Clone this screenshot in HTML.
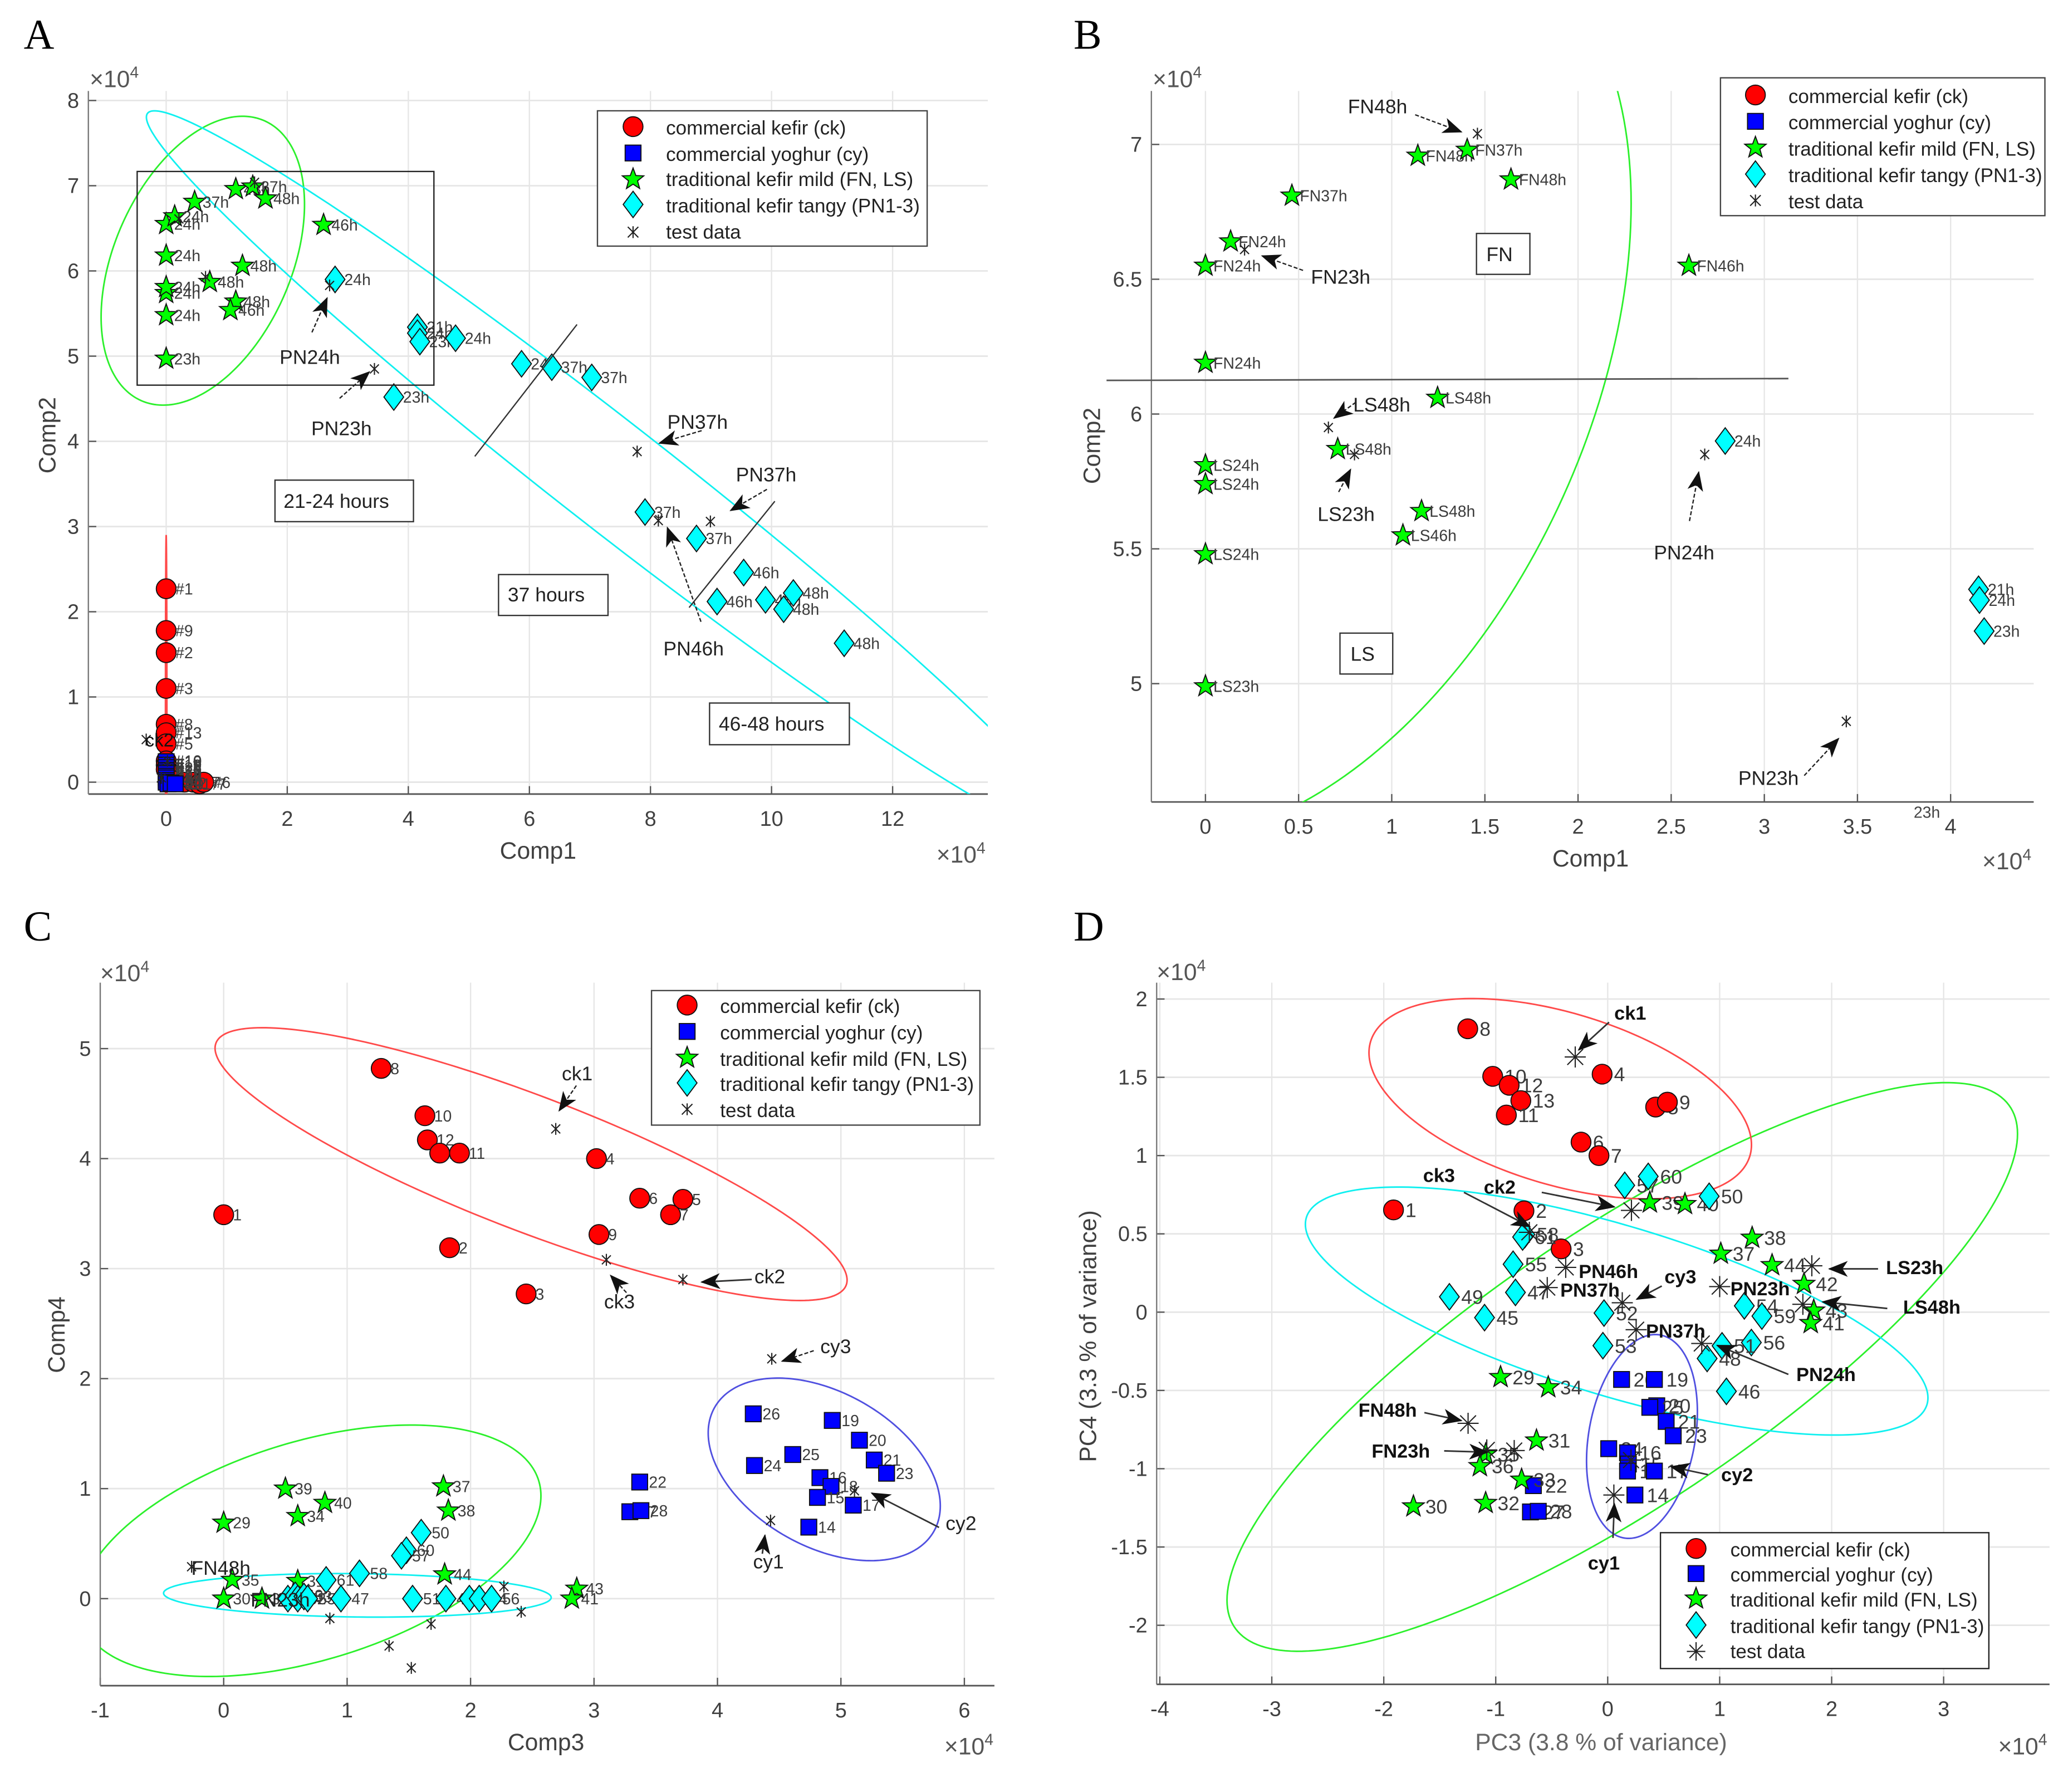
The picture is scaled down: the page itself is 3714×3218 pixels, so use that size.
<!DOCTYPE html>
<html lang="en">
<head>
<meta charset="utf-8">
<title>Kefir and yoghurt PCA score plots</title>
<style>
html,body{margin:0;padding:0;background:#fff}
svg{display:block;font-family:"Liberation Sans",Arial,sans-serif}
.tick{font-size:16px;fill:#404040}
.title{font-size:18px;fill:#404040}
.exp{font-size:18px;fill:#555}
.exp tspan{font-size:12px}
.leg{font-size:14.8px;fill:#222}
.note{font-size:15px;fill:#222}
.noteb{font-size:14.5px;fill:#111;font-weight:bold}
.letter{font-family:"Liberation Serif",serif;font-size:32px;fill:#000}
.box{fill:#fff;stroke:#333;stroke-width:1}
.arr{stroke:#222;stroke-width:1;stroke-dasharray:3 1.5;fill:none;marker-end:url(#ah)}
.arrs{stroke:#333;stroke-width:1.2;fill:none;marker-end:url(#ah)}
.lb{fill:#fff;stroke:#444;stroke-width:1}
.c{fill:#f00;stroke:#111;stroke-width:.8}
.s{fill:#00f;stroke:#111;stroke-width:.8}
.st{fill:#0f0;stroke:#111;stroke-width:.8}
.d{fill:#0ff;stroke:#111;stroke-width:.8}
.t{fill:none;stroke:#222;stroke-width:.9}
</style>
</head>
<body>
<svg id="figure" xmlns="http://www.w3.org/2000/svg" width="3714" height="3218" viewBox="0 0 1568 1358.6">
<defs>
<marker id="ah" markerUnits="userSpaceOnUse" markerWidth="15" markerHeight="12" refX="14" refY="6" orient="auto"><path d="M0 0L15 6L0 12L4 6z" fill="#111"/></marker>
<polygon id="m-star" points="0,-8.6 2.1,-2.9 8.1,-2.65 3.4,1.1 5,6.9 0,3.6 -5,6.9 -3.4,1.1 -8.1,-2.65 -2.1,-2.9"/>
<polygon id="m-dia" points="0,-10 7.5,0 0,10 -7.5,0"/>
<clipPath id="clip-a"><rect x="67" y="69" width="682" height="533"/></clipPath>
<clipPath id="clip-b"><rect x="873" y="69" width="669" height="539"/></clipPath>
<clipPath id="clip-c"><rect x="76" y="745" width="678" height="533"/></clipPath>
<clipPath id="clip-d"><rect x="877" y="745" width="677" height="532"/></clipPath>
</defs>
<rect width="1568" height="1358.6" fill="#fff"/>

<text class="letter" x="18" y="37">A</text>
<text class="letter" x="814" y="37">B</text>
<text class="letter" x="18" y="713">C</text>
<text class="letter" x="814" y="713">D</text>

<g id="panel-a"></g>
<g id="panel-b"></g>
<g id="panel-c"></g>
<g id="panel-d"></g>

<g>
<text class="exp" x="68" y="66">×10<tspan dy="-7">4</tspan></text>
<text class="exp" x="710" y="654">×10<tspan dy="-7">4</tspan></text>
<text class="title" x="408" y="651" text-anchor="middle">Comp1</text>
<text class="title" transform="translate(42,330) rotate(-90)" text-anchor="middle">Comp2</text>
<rect x="104" y="130" width="225" height="162" fill="none" stroke="#222" stroke-width="1"/>
<line x1="437.5" y1="246" x2="360" y2="346" stroke="#333"/>
<line x1="587.5" y1="380" x2="522.5" y2="460.6" stroke="#333"/>
<g><rect class="box" x="208.5" y="364" width="105" height="31.5"/><text class="note" x="215" y="385">21-24 hours</text></g>
<g><rect class="box" x="378" y="435.6" width="83" height="31"/><text class="note" x="385" y="456">37 hours</text></g>
<g><rect class="box" x="538" y="533" width="106" height="31.6"/><text class="note" x="545" y="554">46-48 hours</text></g>
<text class="note" x="212" y="276">PN24h</text>
<text class="note" x="236" y="330">PN23h</text>
<text class="note" x="506" y="325">PN37h</text>
<text class="note" x="558" y="365">PN37h</text>
<text class="note" x="503" y="497">PN46h</text>
<line class="arr" x1="236.5" y1="252" x2="248" y2="226"/>
<line class="arr" x1="257.5" y1="302" x2="280" y2="282"/>
<line class="arr" x1="532" y1="326.5" x2="500" y2="336"/>
<line class="arr" x1="581.5" y1="371" x2="554" y2="387"/>
<line class="arr" x1="531.5" y1="471.4" x2="506" y2="400"/>
<text x="110" y="566" font-size="14" fill="#111">ck2</text>
<g>
<rect class="lb" x="453" y="84" width="250" height="102.6"/>
<g><circle class="c" cx="480" cy="96" r="7.5"/><text class="leg" x="505" y="102">commercial kefir (ck)</text></g>
<g><rect class="s" x="474" y="110" width="12" height="12"/><text class="leg" x="505" y="122">commercial yoghur (cy)</text></g>
<g><use class="st" href="#m-star" transform="translate(480,136)"/><text class="leg" x="505" y="141">traditional kefir mild (FN, LS)</text></g>
<g><use class="d" href="#m-dia" transform="translate(480,155)"/><text class="leg" x="505" y="161">traditional kefir tangy (PN1-3)</text></g>
<g><path class="t" d="M476 172L484 180M484 172L476 180M480 171.5V180.5"/><text class="leg" x="505" y="181">test data</text></g>
</g>
</g>

<g>
<text class="exp" x="874" y="66">×10<tspan dy="-7">4</tspan></text>
<text class="exp" x="1503" y="659">×10<tspan dy="-7">4</tspan></text>
<text class="title" x="1206" y="657" text-anchor="middle">Comp1</text>
<text class="title" transform="translate(834,338) rotate(-90)" text-anchor="middle">Comp2</text>
<line x1="839" y1="288.4" x2="1356" y2="287" stroke="#555" stroke-width="1.2"/>
<g><rect class="box" x="1119.5" y="177" width="40.5" height="31"/><text class="note" x="1127" y="198">FN</text></g>
<g><rect class="box" x="1016" y="480" width="40" height="31"/><text class="note" x="1024" y="501">LS</text></g>
<text class="note" x="1022" y="86">FN48h</text>
<text class="note" x="994" y="215">FN23h</text>
<text class="note" x="1026" y="312">LS48h</text>
<text class="note" x="999" y="395">LS23h</text>
<text class="note" x="1254" y="424">PN24h</text>
<text class="note" x="1318" y="595">PN23h</text>
<text x="1451" y="620" font-size="12" fill="#444">23h</text>
<line class="arr" x1="1073" y1="87" x2="1108" y2="100"/>
<line class="arr" x1="988" y1="205" x2="957" y2="194"/>
<line class="arr" x1="1028" y1="305" x2="1011.5" y2="317"/>
<line class="arr" x1="1015" y1="373" x2="1024" y2="356"/>
<line class="arr" x1="1281" y1="395" x2="1288" y2="358"/>
<line class="arr" x1="1368" y1="588" x2="1394" y2="560"/>
<g>
<rect class="lb" x="1304.5" y="59" width="246" height="104.5"/>
<g><circle class="c" cx="1331" cy="72" r="7.5"/><text class="leg" x="1356" y="78">commercial kefir (ck)</text></g>
<g><rect class="s" x="1325" y="86" width="12" height="12"/><text class="leg" x="1356" y="98">commercial yoghur (cy)</text></g>
<g><use class="st" href="#m-star" transform="translate(1331,112)"/><text class="leg" x="1356" y="118">traditional kefir mild (FN, LS)</text></g>
<g><use class="d" href="#m-dia" transform="translate(1331,132)"/><text class="leg" x="1356" y="138">traditional kefir tangy (PN1-3)</text></g>
<g><path class="t" d="M1327 148L1335 156M1335 148L1327 156M1331 147.5V156.5"/><text class="leg" x="1356" y="158">test data</text></g>
</g>
</g>

<g>
<text class="exp" x="76" y="744">×10<tspan dy="-7">4</tspan></text>
<text class="exp" x="716" y="1330">×10<tspan dy="-7">4</tspan></text>
<text class="title" x="414" y="1327" text-anchor="middle">Comp3</text>
<text class="title" transform="translate(49,1012) rotate(-90)" text-anchor="middle">Comp4</text>
<text class="note" x="426" y="819">ck1</text>
<text class="note" x="458" y="992">ck3</text>
<text class="note" x="572" y="973">ck2</text>
<text class="note" x="622" y="1026">cy3</text>
<text class="note" x="717" y="1160">cy2</text>
<text class="note" x="571" y="1189">cy1</text>
<text class="note" x="145" y="1194">FN48h</text>
<text class="note" x="190" y="1218">FN23h</text>
<line class="arr" x1="437" y1="823" x2="424" y2="842"/>
<line class="arr" x1="475" y1="980" x2="463" y2="967"/>
<line class="arrs" x1="570" y1="970" x2="532" y2="972"/>
<line class="arr" x1="617" y1="1024" x2="593" y2="1032"/>
<line class="arrs" x1="712" y1="1158" x2="661" y2="1132"/>
<line class="arrs" x1="578" y1="1178" x2="580" y2="1164"/>
<g>
<rect class="lb" x="494" y="751" width="249" height="102"/>
<g><circle class="c" cx="521" cy="762" r="7.5"/><text class="leg" x="546" y="768">commercial kefir (ck)</text></g>
<g><rect class="s" x="515" y="776" width="12" height="12"/><text class="leg" x="546" y="788">commercial yoghur (cy)</text></g>
<g><use class="st" href="#m-star" transform="translate(521,802)"/><text class="leg" x="546" y="808">traditional kefir mild (FN, LS)</text></g>
<g><use class="d" href="#m-dia" transform="translate(521,821)"/><text class="leg" x="546" y="827">traditional kefir tangy (PN1-3)</text></g>
<g><path class="t" d="M517 837L525 845M525 837L517 845M521 836.5V845.5"/><text class="leg" x="546" y="847">test data</text></g>
</g>
</g>

<g>
<text class="exp" x="877" y="743">×10<tspan dy="-7">4</tspan></text>
<text class="exp" x="1515" y="1330">×10<tspan dy="-7">4</tspan></text>
<text class="title" x="1214" y="1327" text-anchor="middle" style="fill:#666">PC3 (3.8 % of variance)</text>
<text class="title" transform="translate(831,1013) rotate(-90)" text-anchor="middle">PC4 (3.3 % of variance)</text>
<text class="noteb" x="1224" y="773">ck1</text>
<text class="noteb" x="1079" y="896">ck3</text>
<text class="noteb" x="1125" y="905">ck2</text>
<text class="noteb" x="1262" y="973">cy3</text>
<text class="noteb" x="1197" y="969">PN46h</text>
<text class="noteb" x="1183" y="983">PN37h</text>
<text class="noteb" x="1248" y="1014">PN37h</text>
<text class="noteb" x="1312" y="982">PN23h</text>
<text class="noteb" x="1430" y="966">LS23h</text>
<text class="noteb" x="1443" y="996">LS48h</text>
<text class="noteb" x="1362" y="1047">PN24h</text>
<text class="noteb" x="1030" y="1074">FN48h</text>
<text class="noteb" x="1040" y="1105">FN23h</text>
<text class="noteb" x="1305" y="1123">cy2</text>
<text class="noteb" x="1204" y="1190">cy1</text>
<line class="arrs" x1="1220" y1="775" x2="1197" y2="796"/>
<line class="arrs" x1="1110" y1="904" x2="1160" y2="930"/>
<line class="arrs" x1="1169" y1="904" x2="1224" y2="915"/>
<line class="arrs" x1="1260" y1="975" x2="1241" y2="985"/>
<line class="arrs" x1="1424" y1="962" x2="1387" y2="962"/>
<line class="arrs" x1="1431" y1="992" x2="1382" y2="987"/>
<line class="arrs" x1="1356" y1="1042" x2="1302" y2="1020"/>
<line class="arrs" x1="1080" y1="1071" x2="1108" y2="1077"/>
<line class="arrs" x1="1095" y1="1100" x2="1128" y2="1101"/>
<line class="arrs" x1="1295" y1="1118" x2="1267" y2="1112"/>
<line class="arrs" x1="1223" y1="1166" x2="1224" y2="1140"/>
<g>
<rect class="lb" x="1259" y="1162" width="249" height="103" style="stroke:#222"/>
<g><circle class="c" cx="1286" cy="1174" r="7.5"/><text class="leg" x="1312" y="1180">commercial kefir (ck)</text></g>
<g><rect class="s" x="1280" y="1187" width="12" height="12"/><text class="leg" x="1312" y="1199">commercial yoghur (cy)</text></g>
<g><use class="st" href="#m-star" transform="translate(1286,1212)"/><text class="leg" x="1312" y="1218">traditional kefir mild (FN, LS)</text></g>
<g><use class="d" href="#m-dia" transform="translate(1286,1232)"/><text class="leg" x="1312" y="1238">traditional kefir tangy (PN1-3)</text></g>
<g><path class="t" d="M1279 1252H1293M1286 1245V1259M1281 1247L1291 1257M1291 1247L1281 1257"/><text class="leg" x="1312" y="1257">test data</text></g>
</g>
</g>
</svg>

<script>
// Tick values
const xTicksA = [0, 2, 4, 6, 8, 10, 12];
const yTicksA = [0, 1, 2, 3, 4, 5, 6, 7, 8];
const xTicksB = [0, 0.5, 1, 1.5, 2, 2.5, 3, 3.5, 4];
const yTicksB = [5, 5.5, 6, 6.5, 7];
const xTicksC = [-1, 0, 1, 2, 3, 4, 5, 6];
const yTicksC = [0, 1, 2, 3, 4, 5];
const xTicksD = [-4, -3, -2, -1, 0, 1, 2, 3];
const yTicksD = [-2, -1.5, -1, -0.5, 0, 0.5, 1, 1.5, 2];

// Panel A series [x, y, label]
const kefirA = [[0,2.27,'#1'],[0,1.78,'#9'],[0,1.52,'#2'],[0,1.1,'#3'],[0,.68,'#8'],[0,.58,'#13'],[0,.45,'#5'],[0,.25,'#10'],[0,.2,'#11'],[0,.15,'#12'],[.1,.02,'#4'],[.3,0,'#7'],[.45,0,'#7'],[.55,-.02,'#7'],[.62,0,'#6']];
const yoghurtA = [[0,.24,'#18'],[0,.2,'#19'],[0,.17,'#26'],[0,.14,'#16'],[0,.12,'#25'],[0,.1,'#15'],[0,.07,'#24'],[0,.05,'#17'],[0,.02,'#23'],[0,0,'#14'],[.03,-.02,'#20'],[.08,-.01,'#22'],[.15,-.02,'#21']];
const mildA = [[0,4.97,'23h'],[0,5.48,'24h'],[0,5.74,'24h'],[0,5.81,'24h'],[0,6.18,'24h'],[0,6.55,'24h'],[.14,6.64,'24h'],[.47,6.81,'37h'],[1.15,6.96,'48h'],[1.43,6.99,'37h'],[1.64,6.85,'48h'],[2.6,6.54,'46h'],[1.26,6.06,'48h'],[.72,5.87,'48h'],[1.15,5.64,'48h'],[1.06,5.54,'46h']];
const tangyA = [[2.79,5.9,'24h'],[4.15,5.34,'21h'],[4.15,5.27,'24h'],[4.19,5.17,'23h'],[4.78,5.21,'24h'],[5.87,4.91,'24h'],[6.37,4.87,'37h'],[7.03,4.75,'37h'],[3.76,4.52,'23h'],[7.91,3.17,'37h'],[8.76,2.86,'37h'],[9.54,2.46,'46h'],[9.1,2.12,'46h'],[9.9,2.14,'48h'],[10.36,2.22,'48h'],[10.2,2.03,'48h'],[11.2,1.63,'48h']];
const testA = [[1.46,7.04],[.21,6.61],[.65,5.93],[2.7,5.83],[3.44,4.85],[7.78,3.88],[8.99,3.06],[8.13,3.07],[-.33,.5],[-.08,.05],[.02,.25]];
const ellipseARed = [0,.6,.012,2.3,0];
const ellipseAGreen = [.605,6.12,1.68,1.695,.39];
const ellipseACyan = [7.342,3.607,7.669,4.272,-.9825];

// Panel B series
const mildB = [[1.14,6.958,'FN48h'],[1.405,6.98,'FN37h'],[1.64,6.87,'FN48h'],[.464,6.81,'FN37h'],[.135,6.64,'FN24h'],[0,6.55,'FN24h'],[2.595,6.55,'FN46h'],[0,6.19,'FN24h'],[1.246,6.06,'LS48h'],[.71,5.87,'LS48h'],[0,5.81,'LS24h'],[0,5.74,'LS24h'],[0,5.48,'LS24h'],[0,4.99,'LS23h'],[1.16,5.64,'LS48h'],[1.06,5.55,'LS46h']];
const tangyB = [[2.79,5.9,'24h'],[4.15,5.35,'21h'],[4.155,5.31,'24h'],[4.18,5.195,'23h']];
const testB = [[1.46,7.04],[.21,6.61],[.66,5.95],[.8,5.85],[2.68,5.85],[3.44,4.86]];
const ellipseBGreen = [.52,6.12,1.765,1.695,.39];

// Panel C series
const kefirC = [[1.276,4.82,'8'],[1.63,4.39,'10'],[1.65,4.17,'12'],[1.75,4.05,'13'],[1.91,4.05,'11'],[3.02,4,'4'],[3.37,3.64,'6'],[3.72,3.63,'5'],[3.62,3.49,'7'],[3.04,3.31,'9'],[1.83,3.19,'2'],[2.45,2.77,'3'],[0,3.49,'1']];
const yoghurtC = [[4.29,1.68,'26'],[4.93,1.62,'19'],[5.15,1.44,'20'],[4.61,1.31,'25'],[5.27,1.26,'21'],[4.3,1.21,'24'],[5.37,1.14,'23'],[4.83,1.1,'16'],[4.92,1.02,'18'],[4.81,.92,'15'],[5.1,.85,'17'],[4.74,.65,'14'],[3.37,1.06,'22'],[3.29,.79,'27'],[3.38,.8,'28']];
const mildC = [[.5,1,'39'],[.82,.87,'40'],[.6,.75,'34'],[0,.69,'29'],[1.78,1.02,'37'],[1.82,.8,'38'],[1.79,.22,'44'],[.07,.17,'35'],[.6,.16,'31'],[0,0,'30'],[.31,0,'32'],[2.86,.09,'43'],[2.82,0,'41']];
const tangyC = [[1.6,.6,'50'],[1.48,.44,'60'],[1.44,.39,'57'],[1.1,.23,'58'],[.83,.17,'61'],[.52,0,'45'],[.58,.03,'49'],[.6,0,'52'],[.65,.02,'53'],[.68,0,'55'],[.95,0,'47'],[1.53,0,'51'],[1.8,0,'48'],[1.99,0,'46'],[2.07,0,'54'],[2.17,0,'56']];
const testC = [[-.26,.29],[.86,-.18],[1.68,-.23],[1.34,-.43],[1.52,-.63],[2.27,.11],[2.41,-.12],[2.69,4.27],[3.1,3.08],[3.72,2.9],[4.44,2.18],[4.43,.71],[5.11,.98]];
const ellipseCRed = [2.49,3.95,2.56,1.24,-.85];
const ellipseCBlue = [4.865,1.175,.94,.83,-.4];
const ellipseCGreen = [.7,.435,1.87,1.143,.437];
const ellipseCCyan = [1.083,.03,1.57,.198,-.1];

// Panel D series
const kefirD = [[-1.027,1.506,'10'],[-.88,1.449,'12'],[-.776,1.351,'13'],[-.905,1.259,'11'],[-.05,1.52,'4'],[.428,1.31,'5'],[.533,1.341,'9'],[-.238,1.086,'6'],[-.078,1,'7'],[-1.913,.653,'1'],[-.748,.647,'2'],[-.416,.404,'3'],[-1.25,1.81,'8']];
const yoghurtD = [[.124,-.43,'26'],[.417,-.43,'19'],[.438,-.598,'20'],[.376,-.608,'25'],[.522,-.698,'21'],[.585,-.79,'23'],[.009,-.872,'24'],[.177,-.898,'16'],[.184,-.97,'15'],[.177,-1.015,'18'],[.417,-1.015,'17'],[.243,-1.168,'14'],[-.664,-1.108,'22'],[-.69,-1.276,'27'],[-.62,-1.272,'28']];
const mildD = [[1.29,.475,'38'],[1.01,.373,'37'],[1.468,.3,'44'],[1.753,.18,'42'],[1.84,.01,'43'],[1.813,-.07,'41'],[.376,.7,'39'],[.69,.69,'40'],[-.957,-.415,'29'],[-.531,-.48,'34'],[-.636,-.82,'31'],[-1.09,-.908,'35'],[-1.142,-.984,'36'],[-.769,-1.07,'33'],[-1.09,-1.219,'32'],[-1.735,-1.241,'30']];
const tangyD = [[.152,.81,'57'],[.362,.867,'60'],[.906,.74,'50'],[-.74,.496,'58'],[-.76,.48,'61'],[-.845,.306,'55'],[-.824,.126,'47'],[-1.414,.098,'49'],[-1.1,-.035,'45'],[-.033,-.006,'52'],[-.043,-.214,'53'],[1.22,.04,'54'],[1.377,-.025,'59'],[1.283,-.194,'56'],[1.021,-.215,'51'],[.888,-.296,'48'],[1.06,-.506,'46']];
const testD = [[-.29,1.63],[-.7,.51],[.212,.65],[-.375,.286],[-.54,.157],[.13,.06],[.254,-.112],[.84,-.2],[1,.163],[1.823,.296],[1.743,.05],[-1.247,-.71],[-.835,-.884],[-1.08,-.88],[.055,-1.168],[.208,-.945]];
const ellipseDGreen = [.13,-.35,3.53,1.816,.82];
const ellipseDCyan = [.08,.007,2.78,.792,-.7];
const ellipseDRed = [-.424,1.363,1.708,.64,-.46];
const ellipseDBlue = [.306,-.794,.495,.651,.24];

const NS = 'http://www.w3.org/2000/svg';
const COLORS = {red:'#ff4a4a',blue:'#5050e0',green:'#2cf02c',cyan:'#10f0f0'};

function node(parent, tag, attrs) {
  const el = document.createElementNS(NS, tag);
  for (const k in attrs) el.setAttribute(k, attrs[k]);
  parent.appendChild(el);
  return el;
}

function drawAxes(g, key, sx, sy, box, xTicks, yTicks) {
  for (const v of xTicks) {
    const px = sx(v);
    const gl = node(g, 'line', {x1:px, x2:px, y1:box.top, y2:box.bottom, stroke:'#e6e6e6', 'stroke-width':1});
    
    
    const tk = node(g, 'line', {x1:px, x2:px, y1:box.bottom-6, y2:box.bottom, stroke:'#555', 'stroke-width':1});
    
    
    const tl = node(g, 'text', {x:px, y:box.bottom+24, 'text-anchor':'middle', class:'tick'});
    tl.textContent = String(v);
    
    
  }
  for (const v of yTicks) {
    const py = sy(v);
    const gl = node(g, 'line', {x1:box.left, x2:box.right, y1:py, y2:py, stroke:'#e6e6e6', 'stroke-width':1.2});
    
    
    const tk = node(g, 'line', {x1:box.left, x2:box.left+6, y1:py, y2:py, stroke:'#555', 'stroke-width':1});
    
    
    const tl = node(g, 'text', {x:box.left-7, y:py+5.5, 'text-anchor':'end', class:'tick'});
    tl.textContent = String(v);
    
    
  }
  const xa = node(g, 'line', {x1:box.left, x2:box.right, y1:box.bottom, y2:box.bottom, stroke:'#555', 'stroke-width':1.2});
  
  
  const ya = node(g, 'line', {x1:box.left, x2:box.left, y1:box.top, y2:box.bottom, stroke:'#777', 'stroke-width':1});
  
  
}

function drawEllipse(g, key, sx, sy, e, color) {
  const phi = Math.acos(e[4]);
  let d = '';
  for (let i = 0; i <= 240; i++) {
    const t = i / 240 * 2 * Math.PI;
    const x = sx(e[0] + e[2] * Math.cos(t));
    const y = sy(e[1] + e[3] * Math.cos(t + phi));
    d += (i ? 'L' : 'M') + x.toFixed(2) + ' ' + y.toFixed(2);
  }
  const el = node(g, 'path', {d:d + 'Z', fill:'none', stroke:COLORS[color], 'stroke-width':1.2, 'clip-path':'url(#clip-' + key + ')'});
  
  
}

function pointLabel(g, key, x, y, text, size) {
  const el = node(g, 'text', {x:x, y:y + size * 0.36, 'font-size':size, fill:'#3c3c3c'});
  el.textContent = text;
  
  
}

function drawKefir(g, key, sx, sy, pts, size, off) {
  for (const p of pts) {
    const el = node(g, 'circle', {cx:sx(p[0]), cy:sy(p[1]), r:7.5, class:'c'});
    
    
    pointLabel(g, key, sx(p[0]) + off, sy(p[1]), p[2], size);
  }
}
function drawYoghurt(g, key, sx, sy, pts, size, off) {
  for (const p of pts) {
    const el = node(g, 'rect', {x:sx(p[0]) - 6, y:sy(p[1]) - 6, width:12, height:12, class:'s'});
    
    
    pointLabel(g, key, sx(p[0]) + off, sy(p[1]), p[2], size);
  }
}
function starPoints(cx, cy) {
  let out = [];
  for (let i = 0; i < 10; i++) {
    const a = -Math.PI / 2 + i * Math.PI / 5;
    const r = i % 2 ? 3.5 : 8.6;
    out.push((cx + r * Math.cos(a)).toFixed(2) + ',' + (cy + r * Math.sin(a)).toFixed(2));
  }
  return out.join(' ');
}
function drawMild(g, key, sx, sy, pts, size, off) {
  for (const p of pts) {
    const el = node(g, 'polygon', {points:starPoints(sx(p[0]), sy(p[1])), class:'st'});
    
    
    pointLabel(g, key, sx(p[0]) + off, sy(p[1]), p[2], size);
  }
}
function drawTangy(g, key, sx, sy, pts, size, off) {
  for (const p of pts) {
    const x = sx(p[0]), y = sy(p[1]);
    const el = node(g, 'polygon', {points:[x, y-10, x+7.5, y, x, y+10, x-7.5, y].join(' '), class:'d'});
    
    
    pointLabel(g, key, x + off + 1, y, p[2], size);
  }
}
function drawTest(g, key, sx, sy, pts, r) {
  for (const p of pts) {
    const x = sx(p[0]), y = sy(p[1]), q = r * 0.75;
    const d = 'M' + (x-q) + ' ' + (y-q) + 'L' + (x+q) + ' ' + (y+q) + 'M' + (x+q) + ' ' + (y-q) + 'L' + (x-q) + ' ' + (y+q) + 'M' + x + ' ' + (y-r) + 'V' + (y+r) + (r > 6 ? 'M' + (x-r) + ' ' + y + 'H' + (x+r) : '');
    const el = node(g, 'path', {d:d, class:'t'});
    
    
  }
}

// Panel A
(function () {
  const g = document.getElementById('panel-a');
  const sx = v => 126 + 45.9 * v, sy = v => 593 - 64.6 * v;
  drawAxes(g, 'a', sx, sy, {left:67, right:749, top:69, bottom:602}, xTicksA, yTicksA);
  drawEllipse(g, 'a', sx, sy, ellipseARed, 'red');
  drawEllipse(g, 'a', sx, sy, ellipseAGreen, 'green');
  drawEllipse(g, 'a', sx, sy, ellipseACyan, 'cyan');
  drawKefir(g, 'a', sx, sy, kefirA, 12, 7);
  drawYoghurt(g, 'a', sx, sy, yoghurtA, 12, 7);
  drawMild(g, 'a', sx, sy, mildA, 12, 6);
  drawTangy(g, 'a', sx, sy, tangyA, 12, 6);
  drawTest(g, 'a', sx, sy, testA, 4.5);
})();

// Panel B
(function () {
  const g = document.getElementById('panel-b');
  const sx = v => 914 + 141.25 * v, sy = v => 109.5 + (7 - v) * 204.4;
  drawAxes(g, 'b', sx, sy, {left:873, right:1542, top:69, bottom:608}, xTicksB, yTicksB);
  drawEllipse(g, 'b', sx, sy, ellipseBGreen, 'green');
  drawMild(g, 'b', sx, sy, mildB, 12, 6);
  drawTangy(g, 'b', sx, sy, tangyB, 12, 6);
  drawTest(g, 'b', sx, sy, testB, 4.5);
})();

// Panel C
(function () {
  const g = document.getElementById('panel-c');
  const sx = v => 169.6 + 93.6 * v, sy = v => 1212 - 83.4 * v;
  drawAxes(g, 'c', sx, sy, {left:76, right:754, top:745, bottom:1278}, xTicksC, yTicksC);
  drawEllipse(g, 'c', sx, sy, ellipseCRed, 'red');
  drawEllipse(g, 'c', sx, sy, ellipseCBlue, 'blue');
  drawEllipse(g, 'c', sx, sy, ellipseCGreen, 'green');
  drawEllipse(g, 'c', sx, sy, ellipseCCyan, 'cyan');
  drawKefir(g, 'c', sx, sy, kefirC, 12, 7);
  drawYoghurt(g, 'c', sx, sy, yoghurtC, 12, 7);
  drawMild(g, 'c', sx, sy, mildC, 12, 7);
  drawTangy(g, 'c', sx, sy, tangyC, 12, 7);
  drawTest(g, 'c', sx, sy, testC, 4.5);
})();

// Panel D
(function () {
  const g = document.getElementById('panel-d');
  const sx = v => 1219 + 84.9 * v, sy = v => 994.8 - 118.7 * v;
  drawAxes(g, 'd', sx, sy, {left:877, right:1554, top:745, bottom:1277}, xTicksD, yTicksD);
  drawEllipse(g, 'd', sx, sy, ellipseDGreen, 'green');
  drawEllipse(g, 'd', sx, sy, ellipseDCyan, 'cyan');
  drawEllipse(g, 'd', sx, sy, ellipseDRed, 'red');
  drawEllipse(g, 'd', sx, sy, ellipseDBlue, 'blue');
  drawKefir(g, 'd', sx, sy, kefirD, 15, 9);
  drawYoghurt(g, 'd', sx, sy, yoghurtD, 15, 9);
  drawMild(g, 'd', sx, sy, mildD, 15, 9);
  drawTangy(g, 'd', sx, sy, tangyD, 15, 8);
  drawTest(g, 'd', sx, sy, testD, 8);
})();
</script>
</body>
</html>
